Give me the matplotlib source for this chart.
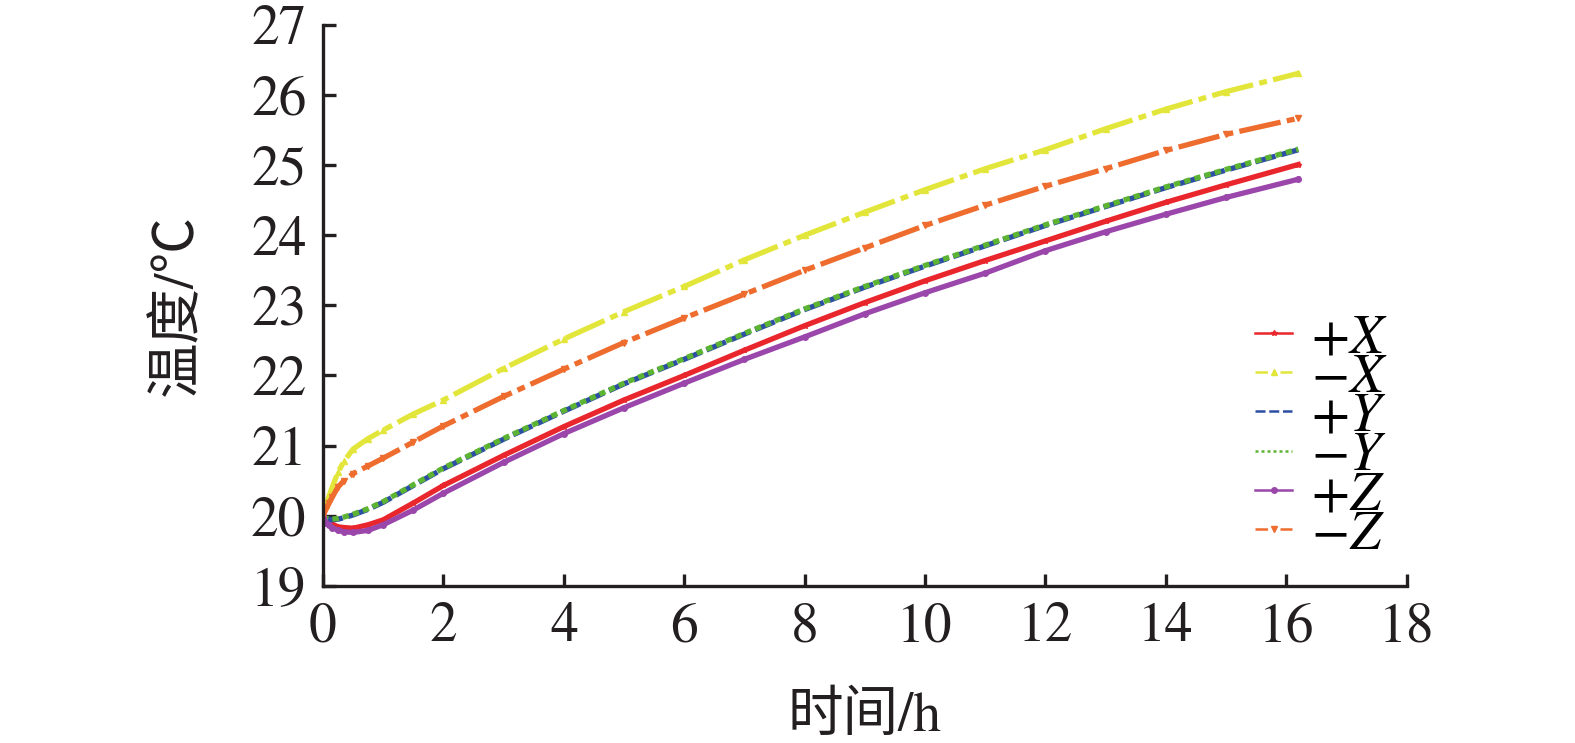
import matplotlib
matplotlib.use("Agg")
from matplotlib import pyplot as plt

# Fuentes: serif tipo Times + CJK para los textos chinos
plt.rcParams['font.family'] = ['STIXGeneral', 'Noto Sans CJK SC']
plt.rcParams['mathtext.fontset'] = 'stix'
plt.rcParams['axes.unicode_minus'] = True

# DATOS
tiempo = [0, 0.05, 0.1, 0.15, 0.25, 0.35, 0.5, 0.75, 1.0, 1.5, 2, 3, 4, 5, 6,
          7, 8, 9, 10, 11, 12, 13, 14, 15, 16.2]

pos_x = [20.0, 19.94, 19.90, 19.88, 19.84, 19.83, 19.82, 19.87, 19.94, 20.18, 20.43,
         20.86, 21.27, 21.65, 22.00, 22.36, 22.71, 23.04, 23.35, 23.64, 23.92,
         24.20, 24.47, 24.72, 25.01]
neg_x = [20.0, 20.15, 20.28, 20.40, 20.62, 20.78, 20.95, 21.10, 21.22, 21.45, 21.65,
         22.10, 22.52, 22.91, 23.27, 23.65, 24.00, 24.33, 24.65, 24.95, 25.22,
         25.52, 25.80, 26.05, 26.31]
pos_y = [20.0, 19.96, 19.95, 19.94, 19.95, 19.97, 20.01, 20.09, 20.19, 20.43, 20.67,
         21.09, 21.49, 21.88, 22.23, 22.59, 22.94, 23.26, 23.56, 23.85, 24.14,
         24.41, 24.68, 24.93, 25.22]
neg_y = [20.0, 19.96, 19.95, 19.95, 19.96, 19.98, 20.02, 20.10, 20.20, 20.44, 20.68,
         21.10, 21.50, 21.89, 22.24, 22.60, 22.95, 23.27, 23.57, 23.86, 24.15,
         24.42, 24.69, 24.94, 25.23]
pos_z = [20.0, 19.90, 19.86, 19.83, 19.79, 19.77, 19.76, 19.79, 19.87, 20.08, 20.32,
         20.76, 21.17, 21.54, 21.89, 22.23, 22.55, 22.88, 23.18, 23.46, 23.78,
         24.05, 24.30, 24.54, 24.80]
neg_z = [20.0, 20.10, 20.18, 20.26, 20.41, 20.50, 20.60, 20.71, 20.82, 21.05, 21.28,
         21.70, 22.09, 22.47, 22.82, 23.16, 23.50, 23.82, 24.14, 24.43, 24.70,
         24.95, 25.21, 25.44, 25.67]

etiquetas = [r'$+X$', r'$-X$', r'$+Y$', r'$-Y$', r'$+Z$', r'$-Z$']
series = [pos_x, neg_x, pos_y, neg_y, pos_z, neg_z]
colores = ['#e8262c', '#e3e63a', '#2c4ea3', '#5cb432', '#9a46aa', '#ee6c2e']
# trazos de las curvas (casi continuos, como en el original) y de la leyenda
trazos = [(None), (0, (8, 1.2, 1.5, 1.2)), (0, (4, 1)), (0, (1.2, 0.8)), (None), (0, (8, 1.2, 1.5, 1.2))]
trazos_leyenda = ['-', (0, (5, 2, 1, 2)), (0, (4, 1.5)), (0, (1.2, 1.2)), '-', (0, (5, 2, 1, 2))]
marcadores = ['*', '^', None, None, 'o', 'v']

x_ticks = list(range(0, 19, 2))
y_ticks = list(range(19, 28))

# FIGURA
fig = plt.figure(figsize=(15.75, 7.43), dpi=100)
ax = fig.add_axes([0.2051, 0.2117, 0.688, 0.7546])

for valores, etiqueta, color, trazo, marca in zip(series, etiquetas, colores, trazos, marcadores):
    estilo = '-' if trazo is None else trazo
    ax.plot(tiempo, valores, color=color, linestyle=estilo, linewidth=3.8,
            marker=marca, markersize=4, label=etiqueta)

ax.set_xlim(0, 18)
ax.set_ylim(19, 27)
ax.set_xticks(x_ticks)
ax.set_yticks(y_ticks)

for lado in ['top', 'right']:
    ax.spines[lado].set_visible(False)
for lado in ['left', 'bottom']:
    ax.spines[lado].set_linewidth(2.4)
    ax.spines[lado].set_color('#231f20')

ax.tick_params(direction='in', length=9, width=2.4, color='#231f20',
               labelsize=40, labelcolor='#231f20', pad=12)

ax.set_xlabel('时间/h', fontsize=40, color='#231f20', labelpad=28)
ax.set_ylabel('温度/℃', fontsize=40, color='#231f20', labelpad=34)

leg = ax.legend(loc='upper left', bbox_to_anchor=(0.84, 0.525), frameon=False,
                fontsize=40, labelspacing=-0.21, handlelength=0.65, handletextpad=0.35,
                borderaxespad=0)
for linea, trazo in zip(leg.get_lines(), trazos_leyenda):
    linea.set_linewidth(1.8)
    linea.set_linestyle(trazo)

plt.savefig("out.png", dpi=100)
